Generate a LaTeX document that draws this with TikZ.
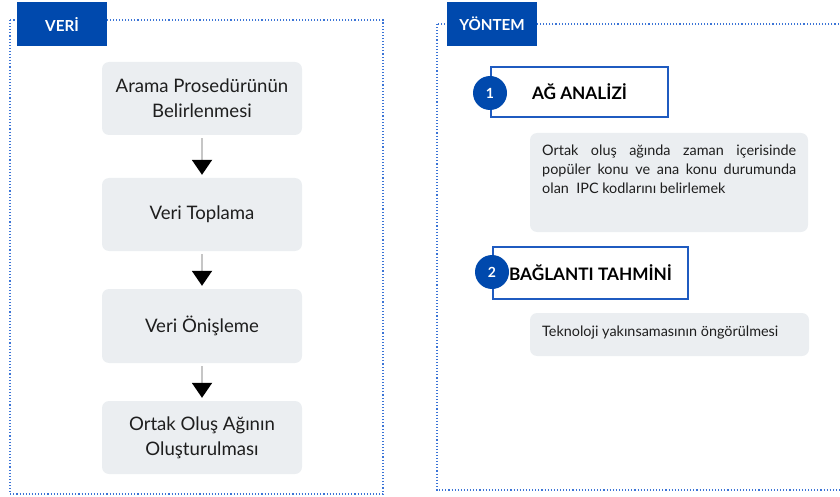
\documentclass[tikz,border=0pt]{standalone}
\usepackage{fontspec}
\setmainfont{Lato}
\usetikzlibrary{arrows.meta}
\definecolor{tabblue}{HTML}{0049AD}
\definecolor{frameblue}{HTML}{1F5BC0}
\definecolor{dotblue}{HTML}{3B74D6}
\definecolor{boxgray}{HTML}{EBEEF1}
\definecolor{linegray}{HTML}{C6C6C6}
\definecolor{txt}{HTML}{1E1E1E}
\tikzset{
  panel/.style={draw=dotblue, line width=1.1pt, dotted},
  tab/.style={fill=tabblue, draw=none, minimum width=90pt, minimum height=44pt, inner sep=0pt,
    text=white, font=\fontsize{15.2}{17}\selectfont\bfseries},
  stepbox/.style={fill=boxgray, draw=none, rounded corners=7pt, minimum width=200pt, minimum height=73pt,
    inner sep=0pt, align=center, text=txt, font=\fontsize{18.6}{25}\selectfont},
  flow/.style={draw=linegray, line width=2pt, shorten <=3pt, shorten >=3pt,
    -{Triangle[width=20pt,length=15pt,color=black]}},
  headbox/.style={draw=frameblue, line width=2.2pt, fill=white, minimum height=50pt, inner sep=0pt,
    text=black, font=\fontsize{17.2}{19}\selectfont\bfseries},
  numcirc/.style={circle, fill=tabblue, draw=none, minimum size=34pt, inner sep=0pt,
    text=white, font=\fontsize{14}{15}\selectfont\bfseries},
  descbox/.style={fill=boxgray, draw=none, rounded corners=7pt, inner sep=0pt},
  desctext/.style={text=txt, font=\fontsize{14.4}{19}\selectfont, inner sep=0pt},
}
\begin{document}
\begin{tikzpicture}[x=1pt,y=-1pt]
\useasboundingbox (0,0) rectangle (840,497);
\clip (0,0) rectangle (840,497);
% panels
\draw[panel] (10,20) rectangle (383,494);
\draw[panel] (437,24) rectangle (860,490);
\node[tab] (veri) at (62,24) {VERİ};
\node[tab] (yontem) at (492,24) {YÖNTEM};
% left flow
\node[stepbox] (b1) at (202,98.5) {Arama Prosedürünün\\Belirlenmesi};
\node[stepbox] (b2) at (202,214.5) {Veri Toplama};
\node[stepbox, minimum height=74pt] (b3) at (202,326) {Veri Önişleme};
\node[stepbox] (b4) at (202,437.5) {Ortak Oluş Ağının\\Oluşturulması};
\draw[flow] (b1) -- (b2);
\draw[flow] (b2) -- (b3);
\draw[flow] (b3) -- (b4);
% right
\node[headbox, minimum width=177pt] (h1) at (579.5,92) {AĞ ANALİZİ};
\node[numcirc] (n1) at (490,93) {1};
\node[descbox, minimum width=278pt, minimum height=99pt] (d1) at (669,182.5) {};
\node[desctext, anchor=north west, text width=254pt, align=justify] (t1) at (542,145)
  {Ortak oluş ağında zaman içerisinde\linebreak popüler konu ve ana konu durumunda\linebreak olan\ \ IPC kodlarını belirlemek};
\node[headbox, minimum width=195pt, minimum height=52pt] (h2) at (590.5,273) {BAĞLANTI TAHMİNİ};
\node[numcirc] (n2) at (492,272) {2};
\node[descbox, minimum width=279pt, minimum height=43pt] (d2) at (669.5,334.5) {};
\node[desctext, anchor=west] (t2) at (542,333) {Teknoloji yakınsamasının öngörülmesi};
\end{tikzpicture}
\end{document}
